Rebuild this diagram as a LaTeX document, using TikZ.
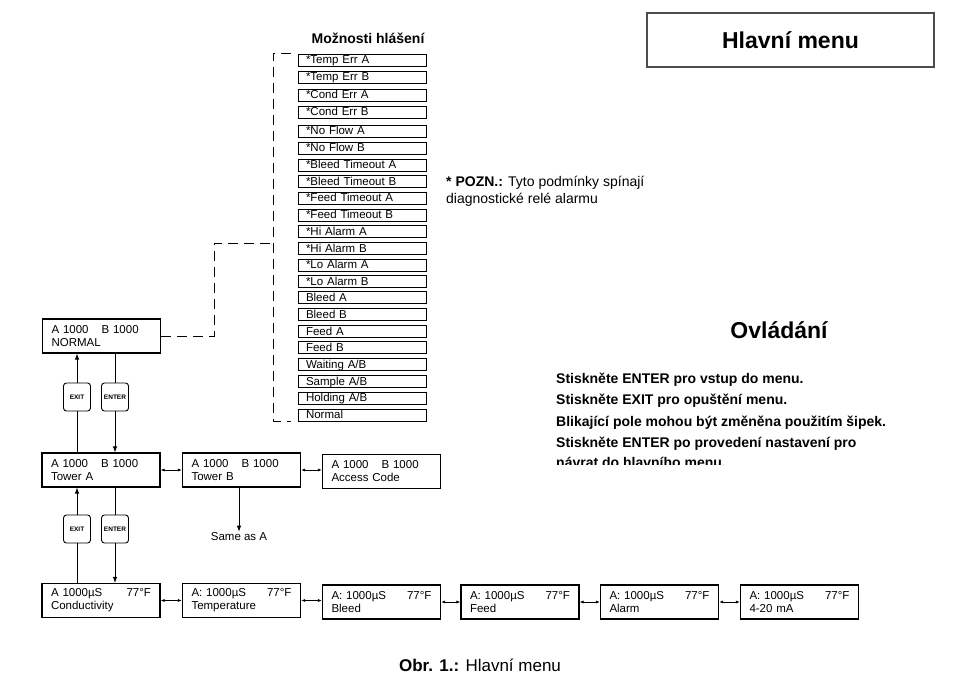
\documentclass[tikz,border=0pt]{standalone}
\usepackage{fontspec}
\setmainfont{Liberation Sans}
\usetikzlibrary{arrows.meta}

\newcommand{\lcdfill}{\hskip 0pt plus 1filll}

\begin{document}
\begin{tikzpicture}[x=1pt,y=-1pt,
    lcd/.style={draw,line width=1.1pt,minimum width=118pt,minimum height=34pt,
      text width=100pt,align=left,inner sep=0pt,font=\fontsize{11.5}{13}\selectfont},
    msg/.style={draw,line width=0.9pt,minimum width=128pt,minimum height=12pt,
      text width=112pt,align=left,inner sep=0pt,text height=8pt,text depth=1pt,
      font=\fontsize{11.5}{12}\selectfont},
    key/.style={draw,line width=0.9pt,rounded corners=3pt,minimum width=27pt,
      minimum height=28pt,inner sep=0pt,fill=white,font=\fontsize{6.5}{7}\selectfont\bfseries},
    link/.style={line width=0.9pt,-{Latex[length=6pt,width=4.5pt]}},
    swap/.style={line width=0.8pt,{Latex[length=4pt,width=3pt]}-{Latex[length=4pt,width=3pt]}},
    brace/.style={line width=0.9pt,dash pattern=on 10pt off 6pt}]
\useasboundingbox (0,0) rectangle (960,674);

% titulky
\node[draw=black!70,line width=1.5pt,minimum width=287pt,minimum height=54pt,
  font=\fontsize{23}{26}\selectfont\bfseries] (title) at (790.5,40) {Hlavní menu};
\node[font=\fontsize{14}{16}\selectfont\bfseries] (msgtitle) at (368,38) {Možnosti hlášení};
\node[font=\fontsize{23}{26}\selectfont\bfseries] (ctrltitle) at (779,330) {Ovládání};
\node[font=\fontsize{17}{20}\selectfont] (caption) at (480,665) {\textbf{Obr. 1.:} Hlavní menu};

% poznamka
\node[anchor=west,align=left,inner sep=0pt,font=\fontsize{14}{17}\selectfont] (note) at (446,191)
  {\textbf{* POZN.:} Tyto podmínky spínají\\diagnostické relé alarmu};

% ovladani
\begin{scope}[every node/.style={anchor=west,inner sep=0pt,font=\fontsize{14}{16}\selectfont\bfseries}]
\clip (540,366) rectangle (930,464);
\node (help1) at (556,380) {Stiskněte ENTER pro vstup do menu.};
\node (help2) at (556,401) {Stiskněte EXIT pro opuštění menu.};
\node (help3) at (556,423) {Blikající pole mohou být změněna použitím šipek.};
\node (help4) at (556,444) {Stiskněte ENTER po provedení nastavení pro};
\node (help5) at (556,462) {návrat do hlavního menu.};
\end{scope}

% hlaseni
\node[msg] (m1) at (362,60) {*Temp Err A};
\node[msg] (m2) at (362,77.5) {*Temp Err B};
\node[msg] (m3) at (362,95) {*Cond Err A};
\node[msg] (m4) at (362,112.5) {*Cond Err B};
\node[msg] (m5) at (362,131.5) {*No Flow A};
\node[msg] (m6) at (362,148.3) {*No Flow B};
\node[msg] (m7) at (362,165) {*Bleed Timeout A};
\node[msg] (m8) at (362,181.7) {*Bleed Timeout B};
\node[msg] (m9) at (362,198.3) {*Feed Timeout A};
\node[msg] (m10) at (362,215) {*Feed Timeout B};
\node[msg] (m11) at (362,231.7) {*Hi Alarm A};
\node[msg] (m12) at (362,248.5) {*Hi Alarm B};
\node[msg] (m13) at (362,265) {*Lo Alarm A};
\node[msg] (m14) at (362,281.8) {*Lo Alarm B};
\node[msg] (m15) at (362,297.8) {Bleed A};
\node[msg] (m16) at (362,314.8) {Bleed B};
\node[msg] (m17) at (362,331.5) {Feed A};
\node[msg] (m18) at (362,347.7) {Feed B};
\node[msg] (m19) at (362,364.8) {Waiting A/B};
\node[msg] (m20) at (362,381.8) {Sample A/B};
\node[msg] (m21) at (362,398) {Holding A/B};
\node[msg] (m22) at (362,415) {Normal};
\draw[brace] (291,53) -- (273,53) -- (273,421) -- (291,421);
\coordinate (brk) at (273,243);

% displeje
\node[lcd] (normal) at (101.5,336) {A 1000\hspace{13pt}B 1000\\NORMAL};
\node[lcd] (towera) at (101,470) {A 1000\hspace{13pt}B 1000\\Tower A};
\node[lcd] (towerb) at (241.5,470) {A 1000\hspace{13pt}B 1000\\Tower B};
\node[lcd] (access) at (381.5,471.5) {A 1000\hspace{13pt}B 1000\\Access Code};
\node[lcd] (cond) at (101,600.5) {A 1000µS\lcdfill 77°F\\Conductivity};
\node[lcd] (temp) at (241.5,600.5) {A: 1000µS\lcdfill 77°F\\Temperature};
\node[lcd] (bleed) at (381.5,602) {A: 1000µS\lcdfill 77°F\\Bleed};
\node[lcd] (feed) at (520,602) {A: 1000µS\lcdfill 77°F\\Feed};
\node[lcd] (alarm) at (659.5,602) {A: 1000µS\lcdfill 77°F\\Alarm};
\node[lcd] (ma) at (799.5,602) {A: 1000µS\lcdfill 77°F\\4-20 mA};
\node[inner sep=1pt,font=\fontsize{11.5}{13}\selectfont] (same) at (239,537) {Same as A};

\draw[brace] (normal.east) -- (214,336) -- (214,243) -- (brk);

% klavesy
\node[key] (exit1) at (77,397) {EXIT};
\node[key] (enter1) at (115,397) {ENTER};
\node[key] (exit2) at (77,529) {EXIT};
\node[key] (enter2) at (115,529) {ENTER};

\draw[line width=0.9pt] (towera.north -| exit1) -- (exit1.south);
\draw[link] (exit1.north) -- (normal.south -| exit1);
\draw[line width=0.9pt] (normal.south -| enter1) -- (enter1.north);
\draw[link] (enter1.south) -- (towera.north -| enter1);
\draw[line width=0.9pt] (cond.north -| exit2) -- (exit2.south);
\draw[link] (exit2.north) -- (towera.south -| exit2);
\draw[line width=0.9pt] (towera.south -| enter2) -- (enter2.north);
\draw[link] (enter2.south) -- (cond.north -| enter2);
\draw[link] (towerb.south -| same) -- (same.north);

\draw[swap] (towera) -- (towerb);
\draw[swap] (towerb) -- (towerb -| access.west);
\draw[swap] (cond.east) -- (temp.west);
\draw[swap] (temp.east) -- (temp.east -| bleed.west);
\draw[swap] (bleed.east) -- (feed.west);
\draw[swap] (feed.east) -- (alarm.west);
\draw[swap] (alarm.east) -- (ma.west);
\end{tikzpicture}
\end{document}
